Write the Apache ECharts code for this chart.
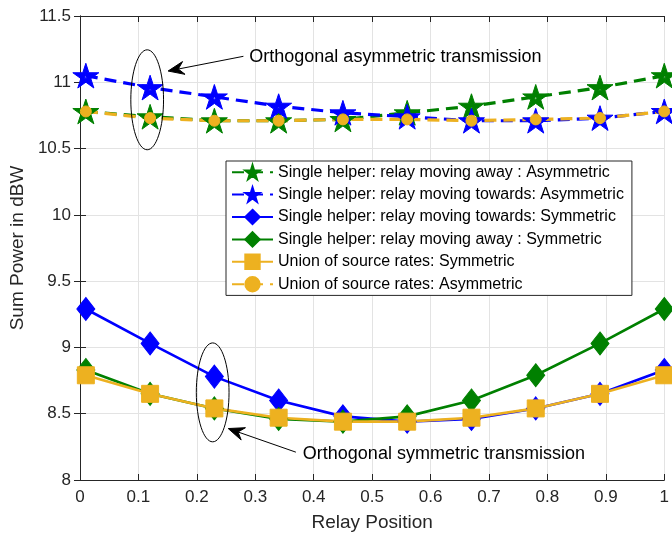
<!DOCTYPE html>
<html>
<head>
<meta charset="utf-8">
<script src="https://cdn.jsdelivr.net/npm/echarts@6/dist/echarts.min.js"></script>
<style>
html,body{margin:0;padding:0;background:#fff;}
#main{width:672px;height:540px;}
</style>
</head>
<body>
<div id="main"></div>
<script>
// ---- data ----
const xPos = [0.01, 0.12, 0.23, 0.34, 0.45, 0.56, 0.67, 0.78, 0.89, 1.0];
const awayAsym    = [10.78, 10.74, 10.71, 10.71, 10.72, 10.77, 10.82, 10.89, 10.96, 11.05];
const towardsAsym = [11.05, 10.96, 10.89, 10.82, 10.77, 10.74, 10.71, 10.71, 10.73, 10.78];
const towardsSym  = [9.29, 9.03, 8.78, 8.60, 8.48, 8.44, 8.46, 8.54, 8.65, 8.83];
const awaySym     = [8.83, 8.65, 8.54, 8.46, 8.44, 8.48, 8.60, 8.79, 9.03, 9.29];
const unionSym    = [8.79, 8.65, 8.54, 8.47, 8.44, 8.44, 8.47, 8.54, 8.65, 8.79];
const unionAsym   = [10.78, 10.73, 10.71, 10.71, 10.72, 10.72, 10.71, 10.72, 10.73, 10.78];
const seriesNames = [
  'Single helper: relay moving away : Asymmetric',
  'Single helper: relay moving towards: Asymmetric',
  'Single helper: relay moving towards: Symmetric',
  'Single helper: relay moving away : Symmetric',
  'Union of source rates: Symmetric',
  'Union of source rates: Asymmetric'
];
const xAxisTitle = 'Relay Position';
const yAxisTitle = 'Sum Power in dBW';
const noteAsym = 'Orthogonal asymmetric transmission';
const noteSym = 'Orthogonal symmetric transmission';

// ---- styling helpers ----
const FONT = '"Liberation Sans", Arial, Helvetica, sans-serif';
const AX = '#262626';
const BLUE = '#0000ff', GREEN = '#008000', ORANGE = '#edb120';

function starPath() {
  const pts = (R, r, rev) => {
    const a = [];
    for (let k = 0; k < 10; k++) {
      const ang = (-90 + 36 * k) * Math.PI / 180;
      const rad = k % 2 === 0 ? R : r;
      a.push([(rad * Math.cos(ang) * 100).toFixed(2), (rad * Math.sin(ang) * 100).toFixed(2)]);
    }
    if (rev) a.reverse();
    return 'M' + a.map(p => p.join(' ')).join(' L') + ' Z';
  };
  return 'path://' + pts(1, 0.382, false) + ' ' + pts(0.16, 0.06, true);
}
const STAR = starPath();
const pair = vals => xPos.map((x, i) => [x, vals[i]]);

function mkSeries(name, vals, color, dashed, symbol, size) {
  return {
    name: name, type: 'line', data: pair(vals),
    symbol: symbol, symbolSize: size, symbolKeepAspect: true,
    showAllSymbol: true,
    lineStyle: { color: color, width: dashed ? 3.2 : 2.6, type: dashed ? [12, 7] : 'solid' },
    itemStyle: { color: color, borderColor: color, borderWidth: 1 },
    emphasis: { disabled: true },
    z: 2
  };
}

const chart = echarts.init(document.getElementById('main'), null, { renderer: 'canvas' });
const axisCommon = {
  axisLine: { show: true, lineStyle: { color: AX, width: 1 } },
  axisTick: { show: true, inside: true, length: 6, lineStyle: { color: AX } },
  splitLine: { show: false }
};
chart.setOption({
  animation: false,
  backgroundColor: '#fff',
  textStyle: { fontFamily: FONT },
  grid: { left: 77, right: 5, top: 16, bottom: 60, containLabel: false },
  xAxis: [
    Object.assign({}, axisCommon, {
      type: 'value', min: 0, max: 1, interval: 0.1,
      name: xAxisTitle, nameLocation: 'middle', nameGap: 33,
      nameTextStyle: { fontSize: 19, color: AX, fontFamily: FONT },
      axisLabel: { fontSize: 17, color: AX, margin: 9, fontFamily: FONT },
      splitLine: { show: true, lineStyle: { color: '#e3e3e3', width: 1 } }
    }),
    Object.assign({}, axisCommon, {
      type: 'value', min: 0, max: 1, interval: 0.1, position: 'top',
      axisLabel: { show: false }
    })
  ],
  yAxis: [
    Object.assign({}, axisCommon, {
      type: 'value', min: 8, max: 11.5, interval: 0.5,
      name: yAxisTitle, nameLocation: 'middle', nameGap: 49,
      nameTextStyle: { fontSize: 19, color: AX, fontFamily: FONT },
      axisLabel: { fontSize: 17, color: AX, margin: 9, fontFamily: FONT },
      splitLine: { show: true, lineStyle: { color: '#e3e3e3', width: 1 } }
    }),
    Object.assign({}, axisCommon, {
      type: 'value', min: 8, max: 11.5, interval: 0.5, position: 'right',
      axisLabel: { show: false }
    })
  ],
  legend: {
    orient: 'vertical', left: 226, top: 161,
    padding: [3, 8, 3, 5],
    itemWidth: 41, itemHeight: 18, itemGap: 6,
    backgroundColor: '#fff', borderColor: AX, borderWidth: 1, borderRadius: 0,
    textStyle: { fontSize: 16, color: '#000', fontFamily: FONT, padding: [0, 0, 0, 0] },
    data: seriesNames
  },
  series: [
    mkSeries(seriesNames[0], awayAsym, GREEN, true, STAR, 26),
    mkSeries(seriesNames[1], towardsAsym, BLUE, true, STAR, 26),
    mkSeries(seriesNames[2], towardsSym, BLUE, false, 'diamond', [18, 23]),
    mkSeries(seriesNames[3], awaySym, GREEN, false, 'diamond', [18, 23]),
    mkSeries(seriesNames[4], unionSym, ORANGE, false, 'rect', 17),
    mkSeries(seriesNames[5], unionAsym, ORANGE, true, 'circle', 11)
  ]
});

// ---- annotations (anchored in data coordinates) ----
const annoEllipses = [
  { cx: 0.115, cy: 10.868, rx: 0.028, ry: 0.377 },
  { cx: 0.2271, cy: 8.661, rx: 0.028, ry: 0.373 }
];
const annoArrows = [
  { from: [0.2797, 11.196], to: [0.1508, 11.085] },
  { from: [0.3695, 8.210], to: [0.2537, 8.388] }
];
const annoTexts = [
  { at: [0.2898, 11.192], text: noteAsym },
  { at: [0.3814, 8.196], text: noteSym }
];
const toPx = p => chart.convertToPixel({ xAxisIndex: 0, yAxisIndex: 0 }, p);
const g = [];
annoEllipses.forEach(e => {
  const c = toPx([e.cx, e.cy]);
  const r = toPx([e.cx + e.rx, e.cy + e.ry]);
  g.push({ type: 'ellipse', shape: { cx: c[0], cy: c[1], rx: Math.abs(r[0] - c[0]), ry: Math.abs(r[1] - c[1]) },
    style: { fill: 'none', stroke: '#000', lineWidth: 1 }, z: 100 });
});
annoArrows.forEach(a => {
  const p1 = toPx(a.from), p2 = toPx(a.to);
  const dx = p2[0] - p1[0], dy = p2[1] - p1[1];
  const len = Math.hypot(dx, dy), ux = dx / len, uy = dy / len;
  const L = 16, W = 6.5;
  const bx = p2[0] - ux * L, by = p2[1] - uy * L;
  const nx = p2[0] - ux * L * 0.65, ny = p2[1] - uy * L * 0.65;
  g.push({ type: 'line', shape: { x1: p1[0], y1: p1[1], x2: nx, y2: ny }, style: { stroke: '#000', lineWidth: 1 }, z: 100 });
  g.push({ type: 'polygon', shape: { points: [[p2[0], p2[1]], [bx - uy * W, by + ux * W], [nx, ny], [bx + uy * W, by - ux * W]] },
    style: { fill: '#000', stroke: '#000', lineWidth: 1 }, z: 100 });
});
annoTexts.forEach(t => {
  const p = toPx(t.at);
  g.push({ type: 'text', x: p[0], y: p[1], style: { text: t.text, font: '18px ' + FONT, fill: '#000', textAlign: 'left', textVerticalAlign: 'middle' }, z: 100 });
});
chart.setOption({ graphic: g });
</script>
</body>
</html>
